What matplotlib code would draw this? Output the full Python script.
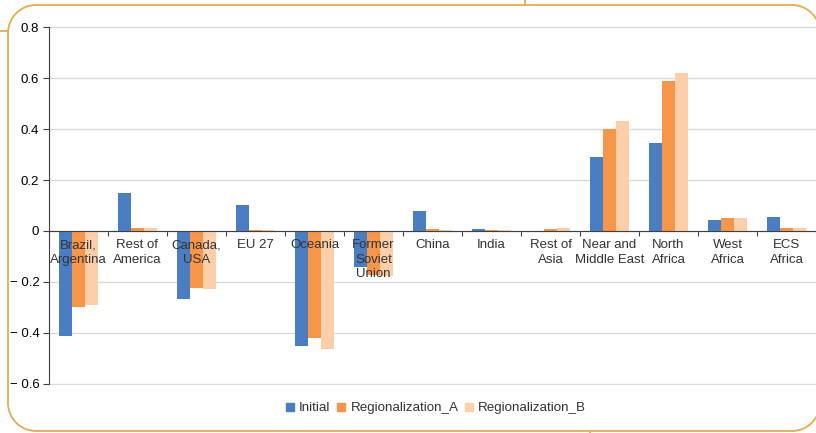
import numpy as np
import matplotlib
matplotlib.use('Agg')
import matplotlib.pyplot as plt
from matplotlib.patches import Arc
from matplotlib.lines import Line2D

plt.rcParams['font.family'] = ['Liberation Sans', 'DejaVu Sans']
plt.rcParams['text.color'] = '#333333'

# regions and the three scenarios
regions = ['Brazil,\nArgentina', 'Rest of\nAmerica', 'Canada,\nUSA', 'EU 27', 'Oceania',
           'Former\nSoviet\nUnion', 'China', 'India', 'Rest of\nAsia', 'Near and\nMiddle East',
           'North\nAfrica', 'West\nAfrica', 'ECS\nAfrica']
initial = [-0.41, 0.15, -0.265, 0.10, -0.45, -0.14, 0.08, 0.007, -0.003, 0.29, 0.345, 0.045, 0.055]
region_a = [-0.297, 0.013, -0.222, 0.005, -0.42, -0.172, 0.007, 0.002, 0.008, 0.40, 0.588, 0.052, 0.012]
region_b = [-0.292, 0.012, -0.226, 0.003, -0.463, -0.175, 0.004, 0.002, 0.010, 0.43, 0.62, 0.052, 0.010]
series_names = ['Initial', 'Regionalization_A', 'Regionalization_B']
colors = ['#4A7EC4', '#F79646', '#FCCFA8']

yticks = [-0.6, -0.4, -0.2, 0, 0.2, 0.4, 0.6, 0.8]
ytick_labels = ['\u2212 0.6', '\u2212 0.4', '\u2212 0.2', '0', '0.2', '0.4', '0.6', '0.8']

fig = plt.figure(figsize=(8.16, 4.33), dpi=100)
ax = fig.add_axes([49 / 816, 48 / 433, 1 - 49 / 816, 359 / 433])

x = np.arange(len(regions))
w = 0.22
for k, (vals, name, c) in enumerate(zip([initial, region_a, region_b], series_names, colors)):
    ax.bar(x + (k - 1) * w, vals, width=w, color=c, label=name, zorder=2)

ax.set_xlim(-0.5, len(regions) - 0.5)
ax.set_ylim(-0.604, 0.804)
ax.set_yticks(yticks)
ax.set_yticklabels(ytick_labels, fontsize=9.5)
ax.yaxis.grid(True, color='#D9D9D9', linewidth=1)
ax.set_axisbelow(True)

for s in ['top', 'right']:
    ax.spines[s].set_visible(False)
ax.spines['left'].set_color('#404040')
ax.spines['left'].set_bounds(-0.6, 0.8)
ax.spines['bottom'].set_position(('data', 0))
ax.spines['bottom'].set_color('#404040')
ax.spines['bottom'].set_zorder(3)
ax.tick_params(axis='y', length=4, color='#404040', pad=3)

# boundary ticks between groups; category names go on top of the bars
ax.set_xticks(np.arange(len(regions) + 1) - 0.5)
ax.set_xticklabels([])
ax.tick_params(axis='x', length=3.5, direction='out', color='#404040')
for xi, name in zip(x, regions):
    ax.annotate(name, (xi, 0), xytext=(0, -6), textcoords='offset points',
                ha='center', va='top', fontsize=9.5, linespacing=1.25,
                color='#333333', zorder=5)

handles = [Line2D([], [], marker='s', linestyle='none', markersize=6, color=c) for c in colors]
fig.legend(handles, series_names, loc='center', bbox_to_anchor=(434 / 816, 25 / 433),
           ncol=3, frameon=False, fontsize=9.6, handletextpad=0.1, columnspacing=0.2,
           handlelength=1.2)

# rounded panel border (inches); the right side falls outside the figure
frame_col = '#E6AD4E'
tr = fig.dpi_scale_trans
x0, x1, y0, y1, r = 0.08, 8.20, 0.02, 4.28, 0.28
lw = 1.3
segments = [([x0 + r, x1 - r], [y1, y1]),
            ([x0 + r, x1 - r], [y0, y0]),
            ([x0, x0], [y0 + r, y1 - r]),
            ([0, x0], [4.02, 4.02]),
            ([5.25, 5.25], [y1, 4.33]),
            ([5.90, 5.90], [0, y0])]
for xs, ys in segments:
    fig.add_artist(Line2D(xs, ys, color=frame_col, linewidth=lw, transform=tr))
for cx, cy, t1, t2 in [(x0 + r, y1 - r, 90, 180), (x0 + r, y0 + r, 180, 270),
                       (x1 - r, y1 - r, 0, 90), (x1 - r, y0 + r, 270, 360)]:
    fig.add_artist(Arc((cx, cy), 2 * r, 2 * r, theta1=t1, theta2=t2,
                       color=frame_col, linewidth=lw, transform=tr))

fig.savefig('out.png', dpi=100)
